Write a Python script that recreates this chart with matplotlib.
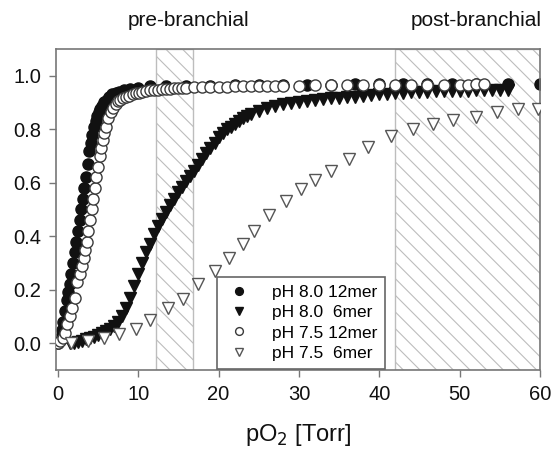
import numpy as np
import matplotlib
matplotlib.use("Agg")
import matplotlib.pyplot as plt

plt.rcParams['font.family'] = ['Liberation Sans', 'DejaVu Sans']
plt.rcParams['hatch.linewidth'] = 0.8

# pH 8.0 12mer (filled circles)
x_ph80_12 = [0.0, 0.3, 0.5, 0.7, 0.9, 1.1, 1.3, 1.5, 1.7, 1.9,
             2.1, 2.3, 2.5, 2.7, 2.9, 3.1, 3.3, 3.5, 3.7, 3.9,
             4.1, 4.3, 4.5, 4.7, 4.9, 5.1, 5.3, 5.5, 5.8, 6.1,
             6.4, 6.8, 7.2, 7.6, 8.2, 9.0, 10.0, 11.5, 13.5, 16,
             19, 22, 25, 28, 31, 34, 37, 40, 43, 46,
             49, 52, 56, 60]
y_ph80_12 = [0.0, 0.02, 0.05, 0.08, 0.12, 0.16, 0.19, 0.22, 0.26, 0.30,
             0.34, 0.38, 0.42, 0.46, 0.50, 0.54, 0.58, 0.62, 0.67, 0.72,
             0.75, 0.78, 0.81, 0.83, 0.85, 0.865, 0.875, 0.885, 0.90, 0.91,
             0.92, 0.93, 0.935, 0.94, 0.945, 0.95, 0.955, 0.96, 0.96, 0.962,
             0.963, 0.965, 0.965, 0.966, 0.967, 0.967, 0.968, 0.968, 0.968, 0.969,
             0.969, 0.97, 0.97, 0.97]

# pH 8.0 6mer (filled triangles)
x_ph80_6 = [1.5, 2.0, 2.5, 3.0, 3.5, 4.0, 4.5, 5.0, 5.5, 6.0,
            6.5, 7.0, 7.5, 8.0, 8.5, 9.0, 9.5, 10.0, 10.5, 11.0,
            11.5, 12.0, 12.5, 13.0, 13.5, 14.0, 14.5, 15.0, 15.5, 16.0,
            16.5, 17.0, 17.5, 18.0, 18.5, 19.0, 19.5, 20.0, 20.5, 21.0,
            21.5, 22.0, 22.5, 23.0, 23.5, 24.0, 25, 26, 27, 28,
            29, 30, 31, 32, 33, 34, 35, 36, 37, 38,
            39, 40, 41, 42, 43, 44, 45, 46, 47, 48,
            49, 50, 51, 52, 53, 54, 55, 56]
y_ph80_6 = [0.0, 0.0, 0.005, 0.01, 0.015, 0.02, 0.025, 0.03, 0.04, 0.045,
            0.055, 0.065, 0.08, 0.10, 0.13, 0.17, 0.215, 0.26, 0.30, 0.34,
            0.37, 0.41, 0.44, 0.465, 0.49, 0.515, 0.54, 0.565, 0.585, 0.605,
            0.625, 0.645, 0.665, 0.69, 0.71, 0.73, 0.75, 0.77, 0.785, 0.80,
            0.81, 0.82, 0.83, 0.84, 0.848, 0.855, 0.868, 0.878, 0.887, 0.893,
            0.898, 0.902, 0.906, 0.91, 0.913, 0.916, 0.918, 0.92, 0.922, 0.925,
            0.927, 0.93, 0.933, 0.935, 0.937, 0.938, 0.94, 0.94, 0.941, 0.942,
            0.943, 0.943, 0.944, 0.945, 0.945, 0.946, 0.946, 0.947]

# pH 7.5 12mer (open circles)
x_ph75_12 = [0.0, 0.3, 0.6, 0.9, 1.2, 1.5, 1.8, 2.1, 2.4, 2.7,
             3.0, 3.2, 3.4, 3.6, 3.8, 4.0, 4.2, 4.4, 4.6, 4.8,
             5.0, 5.2, 5.4, 5.6, 5.8, 6.0, 6.3, 6.6, 6.9, 7.2,
             7.5, 7.8, 8.1, 8.5, 8.9, 9.3, 9.7, 10.1, 10.5, 11.0,
             11.5, 12.0, 12.5, 13.0, 13.5, 14.0, 14.5, 15.0, 15.5, 16,
             17, 18, 19, 20, 21, 22, 23, 24, 25, 26,
             27, 28, 30, 32, 34, 36, 38, 40, 42, 44,
             46, 48, 50, 51, 52, 53]
y_ph75_12 = [0.0, 0.01, 0.02, 0.04, 0.07, 0.10, 0.13, 0.17, 0.23, 0.26,
             0.29, 0.32, 0.35, 0.38, 0.42, 0.46, 0.50, 0.54, 0.58, 0.62,
             0.66, 0.70, 0.73, 0.76, 0.785, 0.81, 0.84, 0.865, 0.88, 0.895,
             0.905, 0.91, 0.915, 0.92, 0.925, 0.93, 0.935, 0.937, 0.94, 0.942,
             0.945, 0.947, 0.948, 0.95, 0.951, 0.952, 0.953, 0.954, 0.955, 0.955,
             0.956, 0.957, 0.958, 0.958, 0.959, 0.96, 0.96, 0.961, 0.961, 0.962,
             0.962, 0.963, 0.963, 0.964, 0.964, 0.965, 0.965, 0.965, 0.966, 0.966,
             0.966, 0.967, 0.967, 0.967, 0.968, 0.968]

# pH 7.5 6mer (open triangles)
x_ph75_6 = [1.7, 3.8, 5.8, 7.6, 9.7, 11.5, 13.7, 15.6, 17.5, 19.6,
            21.3, 23.0, 24.4, 26.3, 28.4, 30.2, 32.0, 34.0, 36.2, 38.6,
            41.4, 44.2, 46.7, 49.2, 52.0, 54.7, 57.3, 59.7]
y_ph75_6 = [0.0, 0.01, 0.02, 0.035, 0.055, 0.085, 0.13, 0.165, 0.22, 0.27,
            0.32, 0.37, 0.42, 0.48, 0.53, 0.575, 0.61, 0.645, 0.69, 0.735,
            0.775, 0.80, 0.82, 0.835, 0.845, 0.865, 0.875, 0.875]

# gill regions
regions = [(12.2, 16.8), (42.0, 60.0)]
region_labels = ["pre-branchial", "post-branchial"]
label_x = [16.3, 52.1]

fig = plt.figure(figsize=(5.51, 4.49), dpi=100)
ax = fig.add_axes([0.102, 0.176, 0.878, 0.715])

for (a, b) in regions:
    ax.axvspan(a, b, facecolor='none', edgecolor='#bdbdbd', hatch='\\\\', linewidth=1.0, zorder=0)

ax.plot(x_ph80_12, y_ph80_12, 'o', color='#111111', markersize=8, label='pH 8.0 12mer', zorder=2)
ax.plot(x_ph80_6, y_ph80_6, 'v', color='#111111', markersize=8, label='pH 8.0  6mer', zorder=2)
ax.plot(x_ph75_12, y_ph75_12, 'o', markerfacecolor='white', markeredgecolor='#3a3a3a',
        markeredgewidth=1.0, markersize=8, label='pH 7.5 12mer', zorder=3)
ax.plot(x_ph75_6, y_ph75_6, 'v', markerfacecolor='white', markeredgecolor='#555555',
        markeredgewidth=1.0, markersize=8.5, label='pH 7.5  6mer', zorder=3)

ax.set_xlim(-0.2, 60)
ax.set_ylim(-0.1, 1.1)
ax.set_xticks([0, 10, 20, 30, 40, 50, 60])
ax.set_yticks([0.0, 0.2, 0.4, 0.6, 0.8, 1.0])
ax.set_yticklabels(['0.0', '0.2', '0.4', '0.6', '0.8', '1.0'])
ax.tick_params(direction='out', length=5, width=1, colors='#777777', labelcolor='#111111',
               labelsize=14.5, pad=6)
for s in ax.spines.values():
    s.set_color('#777777')
    s.set_linewidth(1.2)

ax.set_xlabel('pO$_2$ [Torr]', fontsize=17, color='#111111', labelpad=13)

for lx, txt in zip(label_x, region_labels):
    ax.annotate(txt, xy=(lx, 1.09), xycoords=('data', 'axes fraction'),
                ha='center', va='center', fontsize=15, color='#111111')

leg = ax.legend(loc='lower left', bbox_to_anchor=(0.333, 0.004), fontsize=12.5, frameon=True,
                fancybox=False, edgecolor='#666666', framealpha=1, markerscale=0.7,
                handletextpad=1.1, borderpad=0.45, labelspacing=0.3, handlelength=1.6,
                borderaxespad=0.0)
leg.get_frame().set_linewidth(1.2)

fig.savefig('out.png', dpi=100)
